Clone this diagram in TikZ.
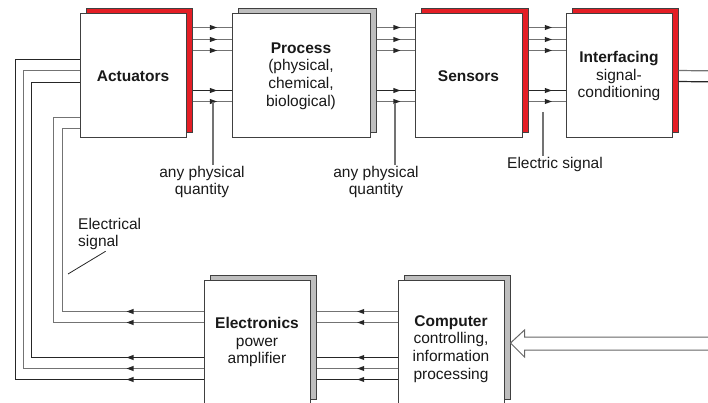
\documentclass[tikz,border=0pt]{standalone}
\usepackage{fontspec}
\setmainfont{Liberation Sans}
\usetikzlibrary{arrows.meta,calc,decorations.markings,shadows}
\definecolor{signalred}{RGB}{228,30,37}
\definecolor{boxgrey}{RGB}{190,190,190}
\definecolor{inkgrey}{RGB}{64,64,64}
\tikzset{
  unit/.style={
    draw=inkgrey,
    fill=white,
    line width=1pt,
    align=center,
    minimum width=106pt,
    minimum height=124pt,
    inner sep=2pt,
    text=black!90,
    font=\fontsize{15.5}{17.7}\selectfont
  },
  redback/.style={
    copy shadow={shadow xshift=6pt,shadow yshift=5pt,fill=signalred,draw=inkgrey,line width=1pt}
  },
  greyback/.style={
    copy shadow={shadow xshift=6pt,shadow yshift=5pt,fill=boxgrey,draw=inkgrey,line width=1pt}
  },
  wire/.style={line width=1.2pt},
  flow/.style={
    postaction={decorate,decoration={markings,
      mark=at position #1 with {\fill[black!85] (3pt,0pt) -- (-4pt,2.6pt) -- (-4pt,-2.6pt) -- cycle;}}}
  },
  flow/.default=.55,
  note/.style={
    align=center,
    inner sep=1pt,
    text=black!90,
    font=\fontsize{15.5}{17.7}\selectfont
  },
  pointer/.style={line width=1.2pt,black!55}
}

\begin{document}
\begin{tikzpicture}[x=1pt,y=-1pt]
\useasboundingbox (0,0) rectangle (708,403);
\clip (0,0) rectangle (708,403);
% blocks
\node[unit,redback] (act) at (133,76) {\textbf{Actuators}};
\node[unit,greyback,minimum width=138pt] (proc) at (301,76) {\textbf{Process}\\(physical,\\chemical,\\biological)};
\node[unit,redback,minimum width=107pt] (sens) at (468.5,76) {\textbf{Sensors}};
\node[unit,redback] (intf) at (619,76) {\textbf{Interfacing}\\signal-\\conditioning};
\node[unit,greyback] (ele) at (257,342) {\textbf{Electronics}\\power\\amplifier};
\node[unit,greyback] (comp) at (451,342) {};
\node[note] (comptext) at ([yshift=-7]comp.center) {\textbf{Computer}\\controlling,\\information\\processing};
% signal lines
\foreach \a/\b in {act/proc,proc/sens,sens/intf}
  \foreach \dy/\c in {14/black!55,26/black!55,37/black!55,77/black!85,88/black!55}
    \draw[wire,\c,flow] ([xshift=6,yshift=-\dy]\a.north east) -- ([yshift=-\dy]\b.north west);
\foreach \dy/\c in {32/black!55,43/black!55,78/black!85,89/black!55,100/black!85}
  \draw[wire,\c,flow=.46] ([yshift=-\dy]comp.north west) -- ([xshift=6,yshift=-\dy]ele.north east);
\foreach \dy/\dx/\ty/\c in {32/-17/115/black!55,43/-26/104/black!55,78/-48/69/black!85,89/-56/57/black!55,100/-64/46/black!85}
  \draw[wire,\c,flow=74pt] ([yshift=-\dy]ele.north west) -| ($(act.north west)+(\dx,\ty)$) -- ([yshift=-\ty]act.north west);
\coordinate (out1) at (720,71);
\coordinate (out2) at (720,82);
\draw[wire,black!55] ([xshift=6,yshift=-57]intf.north east) -- (out1);
\draw[wire,black!85] ([xshift=6,yshift=-68]intf.north east) -- (out2);
% input arrow
\coordinate (tip) at ([xshift=6,yshift=-1]comp.east);
\draw[black!60,fill=white,line width=1pt] (tip) -- ++(14,-13) -- ++(0,7) -- ++(210,0) -- ++(0,13) -- ++(-210,0) -- ++(0,7) -- cycle;
% labels
\node[note] (qty1) at (202,182) {any physical\\quantity};
\coordinate (p1) at (213,102);
\draw[pointer] (p1) -- (p1 |- qty1.north);
\node[note] (qty2) at (376,182) {any physical\\quantity};
\coordinate (p2) at (395,103);
\draw[pointer] (p2) -- (p2 |- qty2.north);
\node[note] (esig) at (555,164) {Electric signal};
\coordinate (p3) at (543,112);
\draw[pointer] (p3) -- (p3 |- esig.north);
\node[note,align=left,anchor=west] (elsig) at (77,234) {Electrical\\signal};
\coordinate (p4) at (68,274);
\draw[line width=.8pt,black!85] (p4) -- ([xshift=-4]elsig.south);
\end{tikzpicture}
\end{document}
